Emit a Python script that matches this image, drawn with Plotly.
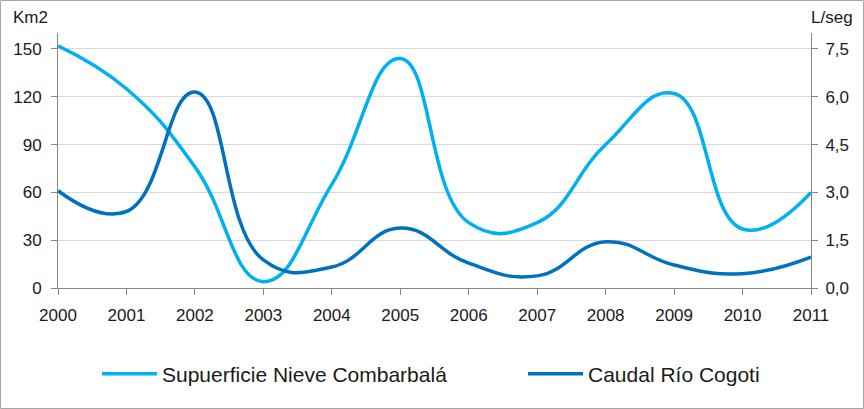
import plotly.graph_objects as go

years = [2000, 2001, 2002, 2003, 2004, 2005, 2006, 2007, 2008, 2009, 2010, 2011]
nieve_km2 = [152, 125, 76, 4, 65, 144, 41, 41, 90, 122, 37, 60]
caudal_lseg = [3.05, 2.4, 6.15, 0.88, 0.66, 1.88, 0.78, 0.38, 1.45, 0.72, 0.45, 0.97]
left_ticks = [0, 30, 60, 90, 120, 150]
right_ticks = [0.0, 1.5, 3.0, 4.5, 6.0, 7.5]
right_labels = ["0,0", "1,5", "3,0", "4,5", "6,0", "7,5"]

FONT = "Liberation Sans"
TXT = "#1a1a1a"

fig = go.Figure()
fig.add_trace(go.Scatter(
    x=years, y=nieve_km2, name="Supuerficie Nieve Combarbalá", mode="lines", legend="legend",
    line=dict(color="#00B0F0", width=3.5, shape="spline", smoothing=1.3),
))
fig.add_trace(go.Scatter(
    x=years, y=caudal_lseg, name="Caudal Río Cogoti", mode="lines", yaxis="y2", legend="legend2",
    line=dict(color="#0070C0", width=3.5, shape="spline", smoothing=1.3),
))

L, R, T, B = 58, 53, 33, 121
W, H = 864, 409
pw, ph = W - L - R, H - T - B

axis_common = dict(showline=True, linecolor="#868686", linewidth=1, ticks="outside", ticklen=6,
                   tickcolor="#868686", zeroline=False, automargin=False,
                   tickfont=dict(size=17, color=TXT))

legend_common = dict(orientation="h", y=(H - B - 374) / ph, xanchor="left", yanchor="middle",
                     font=dict(size=21, color=TXT), itemwidth=55, bgcolor="rgba(0,0,0,0)")

fig.update_layout(
    width=W, height=H,
    margin=dict(l=L, r=R, t=T, b=B, autoexpand=False),
    paper_bgcolor="white", plot_bgcolor="white",
    font=dict(family=FONT, size=17, color=TXT),
    showlegend=True,
    legend=dict(x=(97 - L) / pw, **legend_common),
    legend2=dict(x=(523 - L) / pw, **legend_common),
    xaxis=dict(range=[2000, 2011], tickvals=years, ticktext=[str(y) for y in years],
               showgrid=False, ticklabelstandoff=6, **axis_common),
    yaxis=dict(range=[0, 160], tickvals=left_ticks, ticktext=[str(v) for v in left_ticks],
               showgrid=True, gridcolor="#D9D9D9", gridwidth=1, ticklabelstandoff=6, **axis_common),
    yaxis2=dict(range=[0, 8], tickvals=right_ticks, ticktext=right_labels, overlaying="y", side="right",
                showgrid=False, ticklabelstandoff=4, **axis_common),
    annotations=[
        dict(text="Km2", xref="paper", yref="paper", x=(31 - L) / pw, y=(H - B - 17) / ph,
             showarrow=False, xanchor="center", yanchor="middle", font=dict(size=17, color=TXT)),
        dict(text="L/seg", xref="paper", yref="paper", x=(832 - L) / pw, y=(H - B - 17) / ph,
             showarrow=False, xanchor="center", yanchor="middle", font=dict(size=17, color=TXT)),
    ],
    shapes=[dict(type="rect", xref="paper", yref="paper",
                 x0=(0.5 - L) / pw, x1=(W - 0.5 - L) / pw,
                 y0=(H - B - (H - 0.5)) / ph, y1=(H - B - 0.5) / ph,
                 line=dict(color="#A6A6A6", width=1), layer="below")],
)

fig.write_html("out.html", config={"displayModeBar": False},
               post_script="document.body.style.margin='0';document.body.style.overflow='hidden';")
